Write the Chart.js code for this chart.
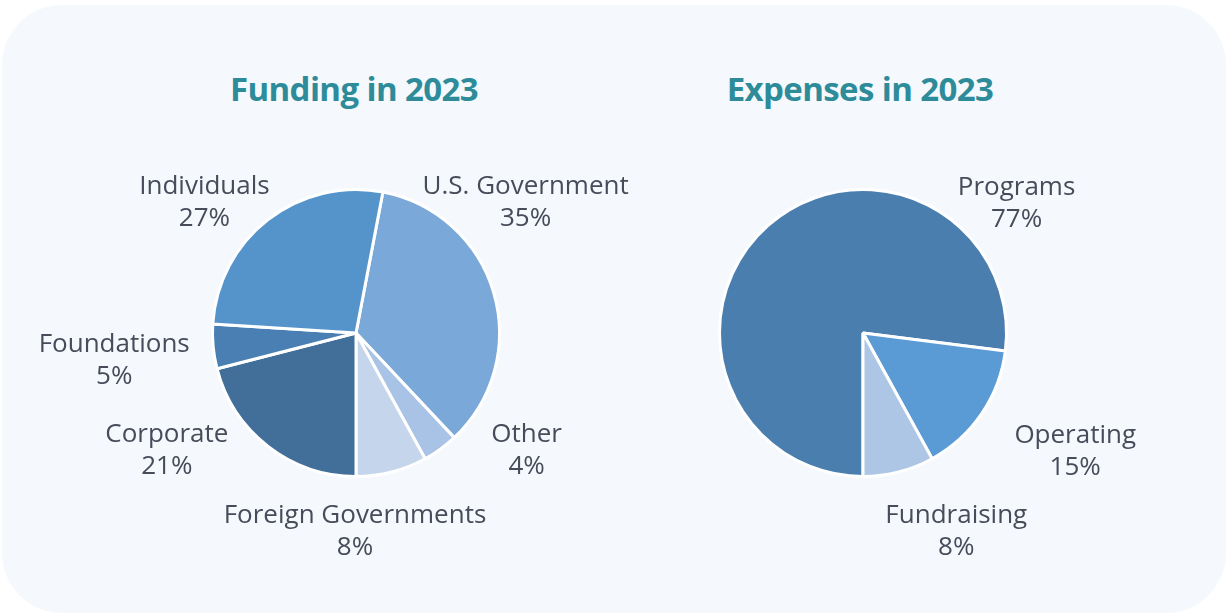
<!DOCTYPE html>
<html>
<head>
<meta charset="utf-8">
<script src="https://cdn.jsdelivr.net/npm/chart.js@4.4.1/dist/chart.umd.min.js"></script>
<style>
    html, body { margin: 0; padding: 0; background: #ffffff; }
    body { width: 1227px; height: 614px; position: relative; overflow: hidden; font-family: 'Open Sans', sans-serif; }
    .card { position: absolute; left: 2px; top: 5px; width: 1224px; height: 608px; border-radius: 60px; background: #f5f9fd; }
    .title { position: absolute; top: 66px; margin: 0; width: 500px; text-align: center; font-size: 33px; font-weight: 700; color: #2e8c9a; letter-spacing: -0.6px; }
    .chart-box { position: absolute; top: 0; left: 0; width: 1227px; height: 614px; }
</style>
</head>
<body>
<div class="card"></div>
<h2 class="title" style="left: 104px;">Funding in 2023</h2>
<h2 class="title" style="left: 610px;">Expenses in 2023</h2>
<div class="chart-box"><canvas id="fundingChart"></canvas></div>
<div class="chart-box"><canvas id="expensesChart"></canvas></div>

<script>
// funding, clockwise starting from the slice right of the top
const fundingLabels = ['U.S. Government', 'Other', 'Foreign Governments', 'Corporate', 'Foundations', 'Individuals'];
const fundingValues = [35, 4, 8, 21, 5, 27];
const fundingColors = ['#7aa9d9', '#a8c3e5', '#c5d5eb', '#426f9a', '#4a7fb3', '#5594cb'];

// expenses, clockwise starting at the bottom
const expenseLabels = ['Programs', 'Operating', 'Fundraising'];
const expenseValues = [77, 15, 8];
const expenseColors = ['#4a7eaf', '#5a9bd6', '#adc6e5'];

// where each label sits, in pie radii from the pie centre (first line baseline)
const fundingSpots = [[1.182, -0.972], [1.189, 0.762], [-0.007, 1.322], [-1.318, 0.762], [-1.685, 0.133], [-1.056, -0.972]];
const expenseSpots = [[1.070, -0.965], [1.479, 0.769], [0.650, 1.322]];

const outsideLabels = {
    id: 'outsideLabels',
    afterDatasetsDraw(chart, args, opts) {
        const ctx = chart.ctx;
        const meta = chart.getDatasetMeta(0);
        const values = chart.data.datasets[0].data;
        ctx.save();
        ctx.fillStyle = '#474b5a';
        ctx.font = "26px 'Open Sans'";
        ctx.textAlign = 'center';
        ctx.textBaseline = 'alphabetic';
        meta.data.forEach((arc, i) => {
            const p = arc.getProps(['x', 'y', 'outerRadius'], true);
            const spot = opts.spots[i];
            const x = p.x + spot[0] * p.outerRadius;
            const y = p.y + spot[1] * p.outerRadius;
            ctx.fillText(chart.data.labels[i], x, y);
            ctx.fillText(values[i] + '%', x, y + 32);
        });
        ctx.restore();
    }
};

function makePie(id, labels, values, colors, rotation, spots, padding) {
    const ctx = document.getElementById(id).getContext('2d');
    return new Chart(ctx, {
        type: 'pie',
        data: {
            labels: labels,
            datasets: [{
                data: values,
                backgroundColor: colors,
                borderColor: '#ffffff',
                borderWidth: 3,
            }],
        },
        options: {
            responsive: true,
            maintainAspectRatio: false,
            animation: false,
            rotation: rotation,
            layout: { padding: padding },
            plugins: {
                legend: { display: false },
                tooltip: { enabled: false },
                outsideLabels: { spots: spots },
            },
        },
        plugins: [outsideLabels],
    });
}

makePie('fundingChart', fundingLabels, fundingValues, fundingColors, 10.8, fundingSpots,
    { left: 211, right: 726, top: 188, bottom: 136 });
makePie('expensesChart', expenseLabels, expenseValues, expenseColors, 180, expenseSpots,
    { left: 718, right: 219, top: 188, bottom: 136 });
</script>
</body>
</html>
